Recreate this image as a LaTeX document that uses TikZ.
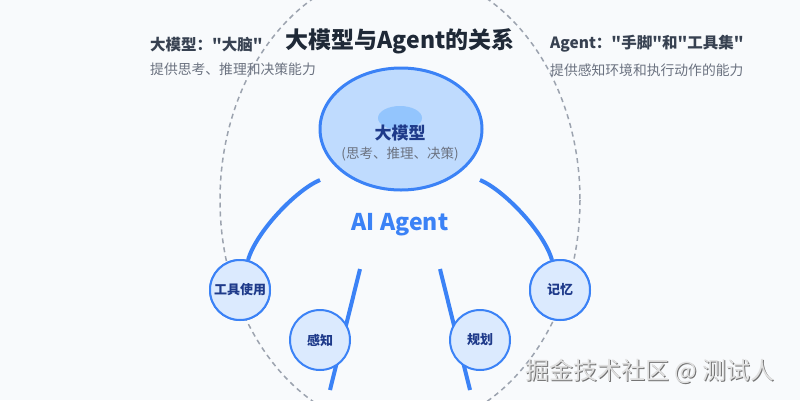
\documentclass[tikz,border=0pt]{standalone}
\usepackage{fontspec}
\setmainfont{Noto Sans CJK SC}[Ligatures=TeXOff]
\usetikzlibrary{shapes.geometric}
\definecolor{bgc}{HTML}{F8FAFC}
\definecolor{dashc}{HTML}{9CA3AF}
\definecolor{titlec}{HTML}{1F2937}
\definecolor{labc}{HTML}{374151}
\definecolor{subc}{HTML}{6B7280}
\definecolor{bluec}{HTML}{3B82F6}
\definecolor{bigfill}{HTML}{BFDBFE}
\definecolor{blobc}{HTML}{93C5FD}
\definecolor{darkblue}{HTML}{1E3A8A}
\definecolor{smallfill}{HTML}{DBEAFE}
\tikzset{
  conn/.style={draw=bluec, line width=4pt},
  feature/.style={circle, draw=bluec, line width=2pt, fill=smallfill, minimum size=60pt, inner sep=0pt,
    font=\fontsize{13}{13}\selectfont\bfseries, text=darkblue},
  headl/.style={anchor=west, inner sep=0pt, font=\fontsize{15.5}{16}\selectfont\bfseries, text=labc},
  subl/.style={anchor=west, inner sep=0pt, font=\fontsize{13.8}{14}\selectfont, text=subc},
}
\begin{document}
\begin{tikzpicture}[x=1pt,y=-1pt]
\useasboundingbox (0,0) rectangle (800,400);
\fill[bgc] (0,0) rectangle (800,400);
% outer dashed agent boundary
\draw[dashc, line width=1.5pt, dash pattern=on 5pt off 4pt] (400,200) ellipse [x radius=180, y radius=230];
% connectors
\coordinate (la) at (320,180);
\coordinate (ra) at (480,180);
\coordinate (ml1) at (360,269);
\coordinate (ml2) at (330,390);
\coordinate (mr1) at (440,269);
\coordinate (mr2) at (470,390);
\node[feature] (tool) at (240,290) {};
\node[feature] (mem) at (560,290) {};
\draw[conn] (la) .. controls (296,190) and (256,232) .. (tool.75);
\draw[conn] (ra) .. controls (504,190) and (544,232) .. (mem.105);
\draw[conn] (ml1) -- (ml2);
\draw[conn] (mr1) -- (mr2);
% feature circles
\node[feature] (toolb) at (240,290) {工具使用};
\node[feature] (perc) at (320,340) {感知};
\node[feature] (plan) at (480,340) {规划};
\node[feature] (memb) at (560,290) {记忆};
% central LLM ellipse
\node[ellipse, draw=bluec, line width=3pt, fill=bigfill, minimum width=162pt, minimum height=122pt] (llm) at (401,129) {};
\fill[blobc] (400,118) ellipse [x radius=22, y radius=12];
\node[inner sep=0pt, font=\fontsize{17}{17}\selectfont\bfseries, text=darkblue] (llmt) at (400,133.5) {大模型};
\node[inner sep=0pt, font=\fontsize{13.5}{14}\selectfont, text=subc] (llms) at (400,154) {(思考、推理、决策)};
% agent label
\node[anchor=base, inner sep=0pt, font=\fontsize{23}{23}\selectfont\bfseries, text=bluec] (agent) at (400,230) {AI Agent};
% title and side labels
\node[inner sep=0pt, font=\fontsize{23}{23}\selectfont\bfseries, text=titlec] (title) at (400,41) {大模型与Agent的关系};
\node[headl] (lh) at (150,44.5) {大模型："大脑"};
\node[subl] (ls) at (150,69.5) {提供思考、推理和决策能力};
\node[headl] (rh) at (550,44) {Agent："手脚"和"工具集"};
\node[subl] (rs) at (550,70) {提供感知环境和执行动作的能力};
% watermark
\node[anchor=west, inner sep=0pt, font=\fontsize{24}{24}\selectfont, text=black!55] at (526,372.5) {掘金技术社区 @ 测试人};
\node[anchor=west, inner sep=0pt, font=\fontsize{24}{24}\selectfont, text=white!88!black] (wm) at (525,371.5) {掘金技术社区 @ 测试人};
\end{tikzpicture}
\end{document}
